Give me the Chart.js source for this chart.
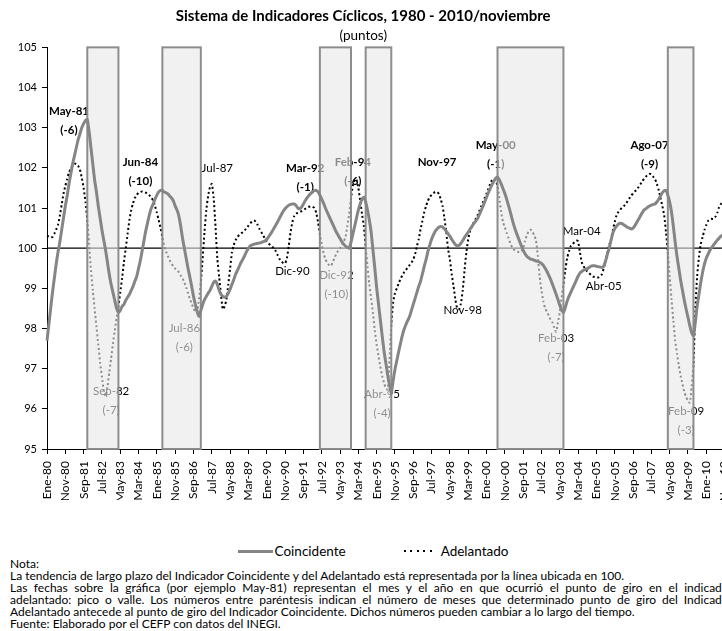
<!DOCTYPE html>
<html>
<head>
<meta charset="utf-8">
<script src="https://cdn.jsdelivr.net/npm/chart.js@4"></script>
<style>
  html,body{margin:0;padding:0;background:#fff;}
  body{width:722px;height:631px;overflow:hidden;position:relative;font-family:Lato,"Liberation Sans",sans-serif;color:#000;}
  #c{position:absolute;left:0;top:0;}
  #legend{position:absolute;left:0;top:543px;width:746px;height:16px;display:flex;justify-content:center;align-items:center;font-size:13.5px;}
  .solid{display:inline-block;width:35px;height:3px;background:#858585;margin-right:2px;}
  .dots{display:inline-block;width:32px;height:2px;background:repeating-linear-gradient(to right,#000 0 2px,transparent 2px 6.5px);margin-left:58px;margin-right:5px;}
  #notes{position:absolute;left:10px;top:558px;width:723px;font-size:12px;line-height:12px;}
  #notes div{white-space:nowrap;}
  #notes div.j{white-space:normal;text-align:justify;text-align-last:justify;}
</style>
</head>
<body>
<canvas id="c" width="746" height="500"></canvas>
<div id="legend"><span class="solid"></span><span>Coincidente</span><span class="dots"></span><span>Adelantado</span></div>
<div id="notes">
  <div>Nota:</div>
  <div>La tendencia de largo plazo del Indicador Coincidente y del Adelantado está representada por la línea ubicada en 100.</div>
  <div class="j">Las fechas sobre la gráfica (por ejemplo May-81) representan el mes y el año en que ocurrió el punto de giro en el indicador</div>
  <div class="j">adelantado: pico o valle. Los números entre paréntesis indican el número de meses que determinado punto de giro del Indicador</div>
  <div>Adelantado antecede al punto de giro del Indicador Coincidente. Dichos números pueden cambiar a lo largo del tiempo.</div>
  <div>Fuente: Elaborado por el CEFP con datos del INEGI.</div>
</div>
<script>
// ---- categories (monthly, Ene-80 .. Nov-10) ----
const monthNames = ['Ene','Feb','Mar','Abr','May','Jun','Jul','Ago','Sep','Oct','Nov','Dic'];
const months = [];
for (let m = 0; m <= 370; m++) {
  const y = (1980 + Math.floor(m / 12)) % 100;
  months.push(monthNames[m % 12] + '-' + String(y).padStart(2, '0'));
}

// ---- series values ----
const coincidente = [
 97.70,98.10,98.50,98.90,99.25,99.60,99.90,100.15,100.45,100.75,
 101.05,101.30,101.60,101.85,102.10,102.30,102.50,102.70,102.85,103.00,
 103.10,103.18,103.20,102.90,102.50,102.10,101.70,101.40,101.05,100.75,
 100.45,100.20,99.95,99.65,99.35,99.10,98.90,98.70,98.50,98.40,
 98.45,98.55,98.60,98.70,98.78,98.85,98.95,99.05,99.18,99.30,
 99.50,99.70,99.95,100.20,100.45,100.65,100.85,101.00,101.10,101.22,
 101.32,101.40,101.44,101.43,101.40,101.38,101.35,101.30,101.25,101.18,
 101.05,100.95,100.80,100.55,100.25,100.00,99.75,99.50,99.28,99.05,
 98.80,98.60,98.42,98.30,98.45,98.60,98.72,98.80,98.88,98.95,
 99.05,99.15,99.18,99.10,98.95,98.85,98.80,98.78,98.80,98.88,
 98.98,99.10,99.22,99.35,99.45,99.55,99.65,99.73,99.82,99.92,
 100.00,100.06,100.08,100.10,100.11,100.12,100.13,100.14,100.16,100.18,
 100.22,100.28,100.35,100.42,100.50,100.58,100.66,100.75,100.84,100.92,
 100.98,101.03,101.07,101.09,101.10,101.10,101.06,101.00,100.98,101.02,
 101.10,101.18,101.25,101.31,101.36,101.40,101.43,101.44,101.40,101.32,
 101.22,101.12,101.00,100.90,100.80,100.70,100.60,100.50,100.40,100.32,
 100.24,100.16,100.10,100.05,100.02,100.00,100.15,100.35,100.55,100.75,
 100.95,101.10,101.22,101.27,101.15,100.95,100.70,100.40,99.95,99.50,
 99.02,98.62,98.22,97.83,97.45,97.15,96.85,96.60,96.40,96.70,
 96.98,97.20,97.42,97.62,97.82,97.98,98.10,98.20,98.30,98.45,
 98.60,98.75,98.90,99.05,99.18,99.36,99.55,99.72,99.92,100.08,
 100.22,100.33,100.42,100.48,100.52,100.54,100.53,100.48,100.42,100.36,
 100.30,100.22,100.15,100.09,100.06,100.07,100.12,100.19,100.27,100.33,
 100.40,100.47,100.54,100.61,100.67,100.73,100.83,100.93,101.04,101.15,
 101.27,101.38,101.48,101.58,101.67,101.74,101.77,101.70,101.60,101.48,
 101.36,101.22,101.06,100.90,100.72,100.56,100.42,100.30,100.18,100.06,
 99.95,99.86,99.80,99.76,99.73,99.72,99.70,99.68,99.67,99.65,
 99.62,99.57,99.50,99.42,99.32,99.22,99.10,98.98,98.85,98.72,
 98.58,98.46,98.40,98.52,98.68,98.80,98.90,99.00,99.10,99.20,
 99.30,99.38,99.42,99.45,99.47,99.49,99.52,99.55,99.56,99.56,
 99.55,99.54,99.53,99.52,99.55,99.68,99.85,100.00,100.20,100.38,
 100.48,100.55,100.60,100.62,100.61,100.58,100.55,100.52,100.50,100.48,
 100.50,100.56,100.64,100.72,100.80,100.88,100.95,100.98,101.02,101.05,
 101.07,101.09,101.10,101.15,101.22,101.30,101.38,101.43,101.44,101.32,
 101.15,100.90,100.55,100.15,99.80,99.50,99.20,98.95,98.70,98.48,
 98.28,98.07,97.90,97.82,98.15,98.55,98.85,99.15,99.40,99.60,
 99.75,99.85,99.95,100.02,100.08,100.14,100.20,100.25,100.30,100.33,
 100.36
];
const adelantado = [
 100.31,100.29,100.27,100.28,100.36,100.46,100.58,100.80,101.08,101.35,
 101.55,101.72,101.88,101.98,102.06,102.10,102.10,102.05,101.95,101.75,
 101.50,101.15,100.70,100.10,99.45,98.95,98.50,98.05,97.60,97.15,
 96.80,96.45,96.32,96.55,96.90,97.25,97.62,97.95,98.25,98.55,
 98.90,99.25,99.65,100.00,100.35,100.70,100.95,101.12,101.25,101.33,
 101.38,101.40,101.41,101.40,101.38,101.35,101.31,101.26,101.18,101.05,
 100.88,100.70,100.50,100.28,100.06,99.92,99.80,99.70,99.62,99.55,
 99.49,99.45,99.40,99.32,99.25,99.15,99.02,98.88,98.74,98.62,
 98.50,98.42,98.40,98.75,99.15,99.75,100.40,100.95,101.30,101.52,
 101.60,101.25,100.55,99.75,99.28,98.85,98.48,98.55,98.73,99.10,
 99.50,99.90,100.08,100.20,100.28,100.33,100.37,100.40,100.45,100.50,
 100.56,100.62,100.66,100.69,100.66,100.58,100.48,100.40,100.32,100.24,
 100.17,100.12,100.07,100.03,100.00,99.92,99.82,99.73,99.67,99.63,
 99.62,99.75,100.05,100.40,100.65,100.80,100.86,100.88,100.90,100.92,
 100.95,100.98,101.01,101.03,101.04,101.03,101.00,100.88,100.65,100.35,
 100.10,99.88,99.73,99.64,99.58,99.56,99.65,99.76,99.86,99.94,
 100.00,100.08,100.16,100.28,100.55,100.85,101.25,101.55,101.72,101.70,
 101.50,101.20,100.85,100.56,100.05,99.55,99.10,98.75,98.38,97.95,
 97.60,97.32,97.05,96.82,96.65,96.52,96.48,97.20,98.10,98.65,
 98.88,99.00,99.12,99.23,99.32,99.40,99.46,99.52,99.58,99.64,
 99.72,99.85,100.05,100.23,100.48,100.68,100.90,101.05,101.18,101.27,
 101.33,101.37,101.40,101.40,101.35,101.22,101.05,100.75,100.40,99.98,
 99.72,99.35,99.05,98.72,98.50,98.48,98.62,98.95,99.45,99.90,
 100.22,100.42,100.55,100.64,100.72,100.81,100.92,101.03,101.14,101.25,
 101.36,101.48,101.60,101.70,101.73,101.68,101.55,101.25,100.90,100.65,
 100.52,100.38,100.25,100.12,100.02,99.96,99.93,99.91,99.90,99.92,
 100.00,100.18,100.32,100.42,100.46,100.42,100.32,100.20,99.80,99.30,
 98.95,98.68,98.50,98.42,98.32,98.22,98.15,98.02,97.92,98.15,
 98.40,98.78,99.10,99.45,99.75,99.92,100.05,100.10,100.15,100.19,
 100.17,99.90,99.65,99.55,99.48,99.42,99.38,99.34,99.30,99.28,
 99.27,99.27,99.30,99.35,99.50,99.68,99.88,100.08,100.23,100.45,
 100.65,100.82,100.90,100.96,101.01,101.05,101.10,101.17,101.24,101.31,
 101.36,101.41,101.46,101.52,101.59,101.66,101.73,101.78,101.82,101.85,
 101.84,101.78,101.72,101.60,101.45,101.25,101.05,100.82,100.40,99.90,
 99.30,98.73,98.20,97.70,97.38,97.08,96.82,96.62,96.42,96.30,
 96.20,96.15,96.55,97.10,98.45,99.30,99.78,100.10,100.28,100.45,
 100.58,100.68,100.72,100.73,100.73,100.78,100.88,101.02,101.10,101.15,
 101.20
];

// ---- shaded periods (start, end month) ----
const recStart = ['Nov-81','Abr-85','Jun-92','Jul-94','Jul-00','Abr-08'];
const recEnd   = ['Abr-83','Ene-87','Nov-93','Sep-95','Jul-03','Jun-09'];

// ---- turning-point annotations ----
const annText = [['May-81','(-6)'],['Sep-82','(-7)'],['Jun-84','(-10)'],['Jul-86','(-6)'],['Jul-87'],['Dic-90'],
  ['Mar-92','(-1)'],['Dic-92','(-10)'],['Feb-94','(-6)'],['Abr-95','(-4)'],['Nov-97'],['Nov-98'],
  ['May-00','(-1)'],['Feb-03','(-7)'],['Mar-04'],['Abr-05'],['Ago-07','(-9)'],['Feb-09','(-3)']];
const annAt = ['Ene-81','Dic-82','Abr-84','Abr-86','Oct-87','Mar-91','Oct-91','Mar-93','Dic-93','Abr-95',
  'Oct-97','Dic-98','Jun-00','Mar-03','May-04','May-05','Jun-07','Feb-09'];
const annY = [103.40,96.44,102.13,98.01,101.98,99.43,101.98,99.33,102.15,96.36,
  102.15,98.46,102.55,97.76,100.43,99.06,102.55,95.94];
const annBold = [1,0,1,0,0,0,1,0,1,0,1,0,1,0,0,0,1,0];

const yTicks = [95,96,97,98,99,100,101,102,103,104,105];
const trendLevel = 100;

const FONT = 'Lato, "Liberation Sans", sans-serif';
Chart.defaults.font.family = FONT;
Chart.defaults.color = '#000';

const overlayPlugin = {
  id: 'overlay',
  afterDatasetDraw(chart, args) {
    if (args.index !== 1) return;
    const ctx = chart.ctx, xs = chart.scales.x, ys = chart.scales.y, ca = chart.chartArea;
    ctx.save();
    const y100 = ys.getPixelForValue(trendLevel);
    ctx.strokeStyle = '#000'; ctx.lineWidth = 1.3;
    ctx.beginPath(); ctx.moveTo(ca.left, y100); ctx.lineTo(ca.right + 30, y100); ctx.stroke();
    ctx.fillStyle = '#000'; ctx.textAlign = 'center'; ctx.textBaseline = 'middle';
    annText.forEach((lines, i) => {
      const x = xs.getPixelForValue(months.indexOf(annAt[i]));
      const y = ys.getPixelForValue(annY[i]);
      ctx.font = (annBold[i] ? 'bold ' : '') + '11.5px ' + FONT;
      lines.forEach((t, k) => ctx.fillText(t, x, y + k * 19));
    });
    const top = ys.getPixelForValue(105), bot = ys.getPixelForValue(95);
    recStart.forEach((s, i) => {
      const x0 = xs.getPixelForValue(months.indexOf(s));
      const x1 = xs.getPixelForValue(months.indexOf(recEnd[i]));
      ctx.fillStyle = 'rgba(232,232,232,0.6)';
      ctx.fillRect(x0, top, x1 - x0, bot - top);
      ctx.strokeStyle = 'rgba(135,135,135,0.95)'; ctx.lineWidth = 2;
      ctx.strokeRect(x0, top, x1 - x0, bot - top);
    });
    ctx.restore();
  }
};

new Chart(document.getElementById('c'), {
  type: 'line',
  data: {
    labels: months,
    datasets: [
      { label: 'Coincidente', data: coincidente, borderColor: '#858585', borderWidth: 3,
        pointRadius: 0, tension: 0.2, fill: false },
      { label: 'Adelantado', data: adelantado, borderColor: '#000', borderWidth: 2,
        borderDash: [2, 2.6], pointRadius: 0, tension: 0.2, fill: false }
    ]
  },
  options: {
    responsive: false, animation: false, devicePixelRatio: 1,
    layout: { padding: { left: 0, right: 19.6, top: 0, bottom: 0 } },
    plugins: {
      legend: { display: false },
      tooltip: { enabled: false },
      title: { display: true, text: 'Sistema de Indicadores Cíclicos, 1980 - 2010/noviembre',
        font: { size: 15, weight: 'bold', family: FONT, lineHeight: 1.1 }, color: '#000', padding: { top: 8, bottom: 1 } },
      subtitle: { display: true, text: '(puntos)', font: { size: 13.5, family: FONT, lineHeight: 1.1 }, color: '#000',
        padding: { top: 3, bottom: 4 } }
    },
    scales: {
      x: {
        type: 'category',
        afterFit(s) { s.height = 51; },
        border: { color: '#000', width: 1 },
        grid: { drawOnChartArea: false, drawTicks: true, tickLength: 5,
          color: c => (c.index % 10 === 0 ? '#000' : 'rgba(0,0,0,0)') },
        ticks: { autoSkip: false, maxRotation: 90, minRotation: 90, padding: 7,
          font: { size: 12, family: FONT }, color: '#000',
          callback: (v, i) => (i % 10 === 0 ? months[i] : '') }
      },
      y: {
        min: 95, max: 105,
        afterFit(s) { s.width = 47; },
        afterBuildTicks(s) { s.ticks = yTicks.map(v => ({ value: v })); },
        border: { color: '#000', width: 1 },
        grid: { drawOnChartArea: false, drawTicks: true, tickLength: 5, color: '#000' },
        ticks: { padding: 5, font: { size: 11, family: FONT }, color: '#000' }
      }
    }
  },
  plugins: [overlayPlugin]
});
</script>
</body>
</html>
